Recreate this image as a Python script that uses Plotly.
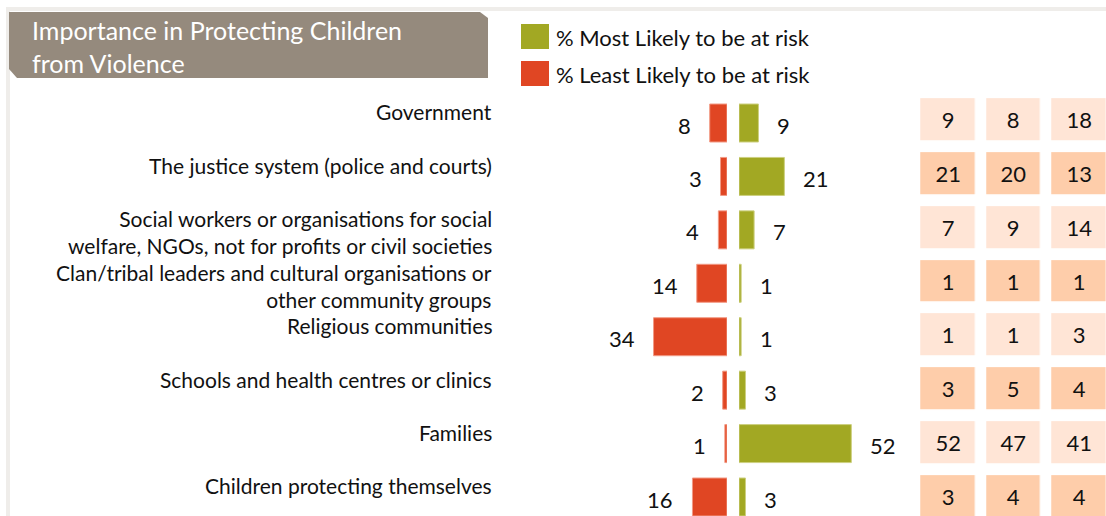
import plotly.graph_objects as go

# ---------------- data ----------------
categories = [
    "Government",
    "The justice system (police and courts)",
    "Social workers or organisations for social<br>welfare, NGOs, not for profits or civil societies",
    "Clan/tribal leaders and cultural organisations or<br>other community groups",
    "Religious communities",
    "Schools and health centres or clinics",
    "Families",
    "Children protecting themselves",
]
most_likely = [9, 21, 7, 1, 1, 3, 52, 3]
least_likely = [8, 3, 4, 14, 34, 2, 1, 16]
table_col1 = [9, 21, 7, 1, 1, 3, 52, 3]
table_col2 = [8, 20, 9, 1, 1, 5, 47, 4]
table_col3 = [18, 13, 14, 1, 3, 4, 41, 4]
legend_most = "% Most Likely to be at risk"
legend_least = "% Least Likely to be at risk"
title_text = "Importance in Protecting Children<br>from Violence"

# ---------------- styling ----------------
W, H = 1106, 516
FONT = "Lato"
GREEN = "#A2A823"
RED = "#E04623"
BOX = "#958A7D"
CELL_LIGHT = "#FFE5D6"
CELL_DARK = "#FECDAA"
FRAME = "#EFEDEA"
TXT = "#111111"

def px(x):
    return x / W

def py(y):
    return 1 - y / H

n = len(categories)
idx = list(range(n))

# bar y axis: row 0 centre at 123px, pitch 53.43px
pitch = 53.43
c0 = 123
y_range = [(H - c0) / pitch, -c0 / pitch]
bar_w = 38 / pitch

# x scale (px per unit)
scale = 2.16
red_left, red_right = 560, 727
green_left, green_right = 739, 905

fig = go.Figure()

fig.add_trace(go.Bar(
    y=idx, x=least_likely, orientation="h", xaxis="x", yaxis="y",
    marker=dict(color=RED, line=dict(color="#F29A85", width=1)),
    width=bar_w, name=legend_least, showlegend=False, hoverinfo="x",
))
fig.add_trace(go.Bar(
    y=idx, x=most_likely, orientation="h", xaxis="x2", yaxis="y",
    marker=dict(color=GREEN, line=dict(color="#CDD080", width=1)),
    width=bar_w, name=legend_most, showlegend=False, hoverinfo="x",
))

# table as heatmap
cell_pitch_y = 53.86
cell_c0 = 120
col_pitch = 65.5
col_c0 = 948
z = [[i % 2] * 3 for i in idx]
text = [[str(a), str(b), str(c)] for a, b, c in zip(table_col1, table_col2, table_col3)]
fig.add_trace(go.Heatmap(
    z=z, x=[0, 1, 2], y=idx, xaxis="x3", yaxis="y2",
    colorscale=[[0, CELL_LIGHT], [1, CELL_DARK]], showscale=False,
    text=text, texttemplate="%{text}",
    textfont=dict(family=FONT, size=22, color=TXT),
    xgap=11.5, ygap=cell_pitch_y - 42, hoverinfo="text",
))

annotations = []
for i in idx:
    annotations.append(dict(
        x=least_likely[i], y=i, xref="x", yref="y", text=str(least_likely[i]),
        xanchor="right", yanchor="middle", xshift=-17, yshift=-2, showarrow=False,
        font=dict(family=FONT, size=22, color=TXT),
    ))
    annotations.append(dict(
        x=most_likely[i], y=i, xref="x2", yref="y", text=str(most_likely[i]),
        xanchor="left", yanchor="middle", xshift=17, yshift=-2, showarrow=False,
        font=dict(family=FONT, size=22, color=TXT),
    ))
    annotations.append(dict(
        x=px(494), y=i - 0.48, xref="paper", yref="y", text=categories[i],
        xanchor="right", yanchor="top", align="right", showarrow=False,
        font=dict(family=FONT, size=21, color=TXT),
    ))

annotations.append(dict(
    x=px(30), y=py(13), xref="paper", yref="paper", text=title_text,
    xanchor="left", yanchor="top", align="left", showarrow=False,
    font=dict(family=FONT, size=25, color="white"),
))
annotations.append(dict(
    x=px(554), y=py(37), xref="paper", yref="paper", text=legend_most,
    xanchor="left", yanchor="middle", showarrow=False,
    font=dict(family=FONT, size=22, color=TXT),
))
annotations.append(dict(
    x=px(554), y=py(74), xref="paper", yref="paper", text=legend_least,
    xanchor="left", yanchor="middle", showarrow=False,
    font=dict(family=FONT, size=22, color=TXT),
))

def path(points):
    return "M " + " L ".join(f"{px(x):.5f},{py(y):.5f}" for x, y in points) + " Z"

shapes = [
    dict(type="path", xref="paper", yref="paper",
         path=f"M {px(8):.5f},{py(520):.5f} L {px(8):.5f},{py(9):.5f} L {px(1110):.5f},{py(9):.5f}",
         line=dict(color=FRAME, width=4), layer="below"),
    dict(type="path", xref="paper", yref="paper",
         path=path([(9, 12), (480, 12), (488, 18), (488, 78), (17, 78), (9, 69)]),
         fillcolor=BOX, line=dict(width=0), layer="below"),
    dict(type="rect", xref="paper", yref="paper",
         x0=px(521), x1=px(549), y0=py(24), y1=py(49),
         fillcolor=GREEN, line=dict(width=0)),
    dict(type="rect", xref="paper", yref="paper",
         x0=px(521), x1=px(549), y0=py(61), y1=py(86),
         fillcolor=RED, line=dict(width=0)),
]

hidden = dict(visible=False, showgrid=False, zeroline=False, fixedrange=True)

fig.update_layout(
    width=W, height=H,
    margin=dict(l=0, r=0, t=0, b=0),
    paper_bgcolor="white", plot_bgcolor="rgba(0,0,0,0)",
    showlegend=False,
    barmode="overlay",
    xaxis=dict(domain=[px(red_left), px(red_right)],
               range=[(red_right - red_left) / scale, 0], anchor="y", **hidden),
    xaxis2=dict(domain=[px(green_left), px(green_right)],
                range=[0, (green_right - green_left) / scale], anchor="y", **hidden),
    yaxis=dict(domain=[0, 1], range=y_range, anchor="x", **hidden),
    xaxis3=dict(domain=[px(915.25), 1],
                range=[(915.25 - col_c0) / col_pitch, (W - col_c0) / col_pitch],
                anchor="y2", **hidden),
    yaxis2=dict(domain=[0, 1],
                range=[(H - cell_c0) / cell_pitch_y, -cell_c0 / cell_pitch_y],
                anchor="x3", **hidden),
    annotations=annotations,
    shapes=shapes,
    font=dict(family=FONT),
)

fig.write_html(
    "out.html",
    config={"displayModeBar": False},
    post_script="document.body.style.margin='0px';document.body.style.overflow='hidden';",
)
